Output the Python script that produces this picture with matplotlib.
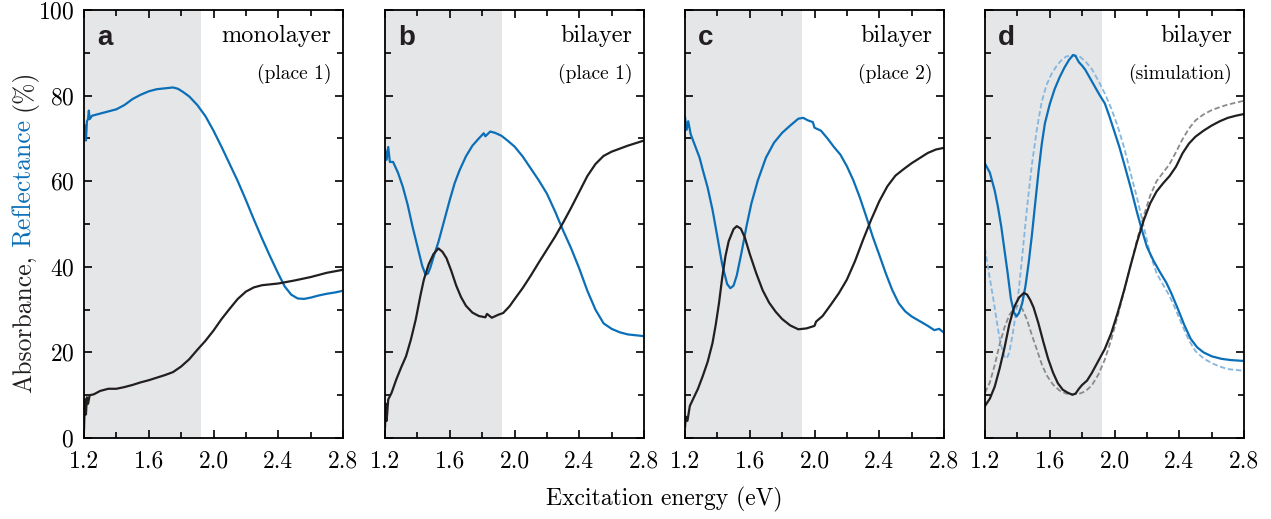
import numpy as np
import matplotlib
matplotlib.use("Agg")
import matplotlib.pyplot as plt
from matplotlib.ticker import MultipleLocator

plt.rcParams["font.family"] = "serif"
plt.rcParams["font.serif"] = ["cmr10"]
plt.rcParams["axes.formatter.use_mathtext"] = True

BLUE = "#0b6fb8"
BLACK = "#231f20"
LIGHTBLUE = "#84b6df"
GRAY = "#8a8a8c"
SHADE = "#e5e6e8"

# panel a: monolayer, place 1
a_refl_e = [1.2, 1.203, 1.208, 1.212, 1.218, 1.225, 1.23, 1.235, 1.25, 1.3, 1.35, 1.4, 1.45, 1.5, 1.55, 1.6, 1.65, 1.7, 1.75, 1.78, 1.81, 1.85, 1.9, 1.95, 2.0, 2.05, 2.1, 2.15, 2.2, 2.25, 2.3, 2.35, 2.4, 2.44, 2.48, 2.52, 2.56, 2.6, 2.65, 2.7, 2.75, 2.8]
a_refl = [72, 70, 73, 69.5, 74, 74.5, 76.5, 74.5, 75.3, 75.8, 76.3, 76.8, 77.8, 79.2, 80.2, 81.0, 81.5, 81.7, 81.9, 81.6, 80.9, 79.8, 77.8, 75.2, 71.8, 68, 64, 60, 55.6, 51, 46.6, 42.4, 38.4, 35.4, 33.5, 32.6, 32.5, 32.8, 33.3, 33.7, 34.0, 34.4]
a_abs_e = [1.2, 1.203, 1.207, 1.212, 1.218, 1.225, 1.235, 1.26, 1.3, 1.35, 1.4, 1.45, 1.5, 1.55, 1.6, 1.65, 1.7, 1.75, 1.8, 1.85, 1.9, 1.95, 2.0, 2.05, 2.1, 2.15, 2.2, 2.25, 2.3, 2.4, 2.5, 2.6, 2.7, 2.8]
a_abs = [2, 6, 9, 5.5, 9.5, 8, 10, 10.2, 11, 11.5, 11.5, 11.9, 12.4, 13, 13.5, 14.1, 14.7, 15.4, 16.7, 18.4, 20.6, 22.7, 25.1, 27.8, 30.2, 32.5, 34.2, 35.2, 35.7, 36.1, 36.8, 37.6, 38.6, 39.3]

# panel b: bilayer, place 1
b_refl_e = [1.2, 1.21, 1.22, 1.23, 1.25, 1.28, 1.31, 1.34, 1.37, 1.4, 1.43, 1.45, 1.465, 1.48, 1.5, 1.53, 1.56, 1.6, 1.63, 1.66, 1.7, 1.74, 1.78, 1.81, 1.82, 1.85, 1.88, 1.92, 1.96, 2.0, 2.05, 2.1, 2.15, 2.2, 2.25, 2.3, 2.35, 2.4, 2.45, 2.5, 2.55, 2.6, 2.65, 2.7, 2.75, 2.8]
b_refl = [67.5, 65, 68, 64.5, 64.5, 62, 58.7, 54.5, 49.4, 44.8, 40.2, 38.2, 38.4, 39.8, 42.3, 45.8, 50, 55.6, 59.5, 62.5, 65.8, 68.3, 70, 71.2, 70.5, 71.6, 71.3, 70.6, 69.4, 68.1, 65.8, 63, 60.2, 57.1, 53, 48.5, 44.3, 39.6, 34.4, 30, 26.8, 25.5, 24.7, 24.2, 24, 23.8]
b_abs_e = [1.2, 1.205, 1.21, 1.22, 1.24, 1.27, 1.3, 1.33, 1.36, 1.39, 1.42, 1.44, 1.47, 1.5, 1.53, 1.555, 1.58, 1.61, 1.64, 1.67, 1.7, 1.74, 1.78, 1.82, 1.83, 1.86, 1.9, 1.93, 1.97, 2.0, 2.05, 2.1, 2.15, 2.2, 2.25, 2.3, 2.35, 2.4, 2.45, 2.5, 2.55, 2.6, 2.65, 2.7, 2.75, 2.8]
b_abs = [2.5, 8, 4, 9, 10.5, 13.7, 16.5, 19.1, 23, 27.7, 33.5, 37, 40.6, 43.0, 44.3, 43.5, 42.0, 39, 35.6, 32.9, 30.9, 29.3, 28.5, 28.2, 29.0, 28.1, 28.8, 29.2, 30.8, 32.4, 35, 37.9, 41, 44, 47, 50.3, 53.8, 57.5, 61.2, 64, 65.9, 66.9, 67.6, 68.3, 68.9, 69.5]

# panel c: bilayer, place 2
c_refl_e = [1.2, 1.21, 1.22, 1.235, 1.26, 1.29, 1.31, 1.34, 1.37, 1.4, 1.43, 1.46, 1.48, 1.5, 1.52, 1.55, 1.58, 1.61, 1.65, 1.7, 1.75, 1.8, 1.85, 1.9, 1.93, 1.96, 1.99, 2.0, 2.04, 2.08, 2.12, 2.16, 2.2, 2.24, 2.28, 2.32, 2.36, 2.4, 2.44, 2.48, 2.52, 2.56, 2.6, 2.65, 2.7, 2.74, 2.77, 2.8]
c_refl = [75, 72, 74, 71, 68.5, 65.5, 62.6, 58.5, 53.3, 47, 40.5, 36, 35, 35.6, 38, 43.5, 49.5, 54.8, 60.2, 65.5, 69, 71.3, 73, 74.6, 74.8, 74.2, 73.8, 72.5, 71.8, 70, 68, 66.2, 63.5, 60.2, 56.2, 51.7, 47, 42.8, 38.5, 34.6, 31.5, 29.6, 28.4, 27.3, 26.2, 25.2, 25.5, 24.6]
c_abs_e = [1.2, 1.205, 1.215, 1.23, 1.25, 1.28, 1.31, 1.34, 1.37, 1.39, 1.41, 1.43, 1.45, 1.47, 1.5, 1.52, 1.545, 1.57, 1.6, 1.64, 1.68, 1.72, 1.76, 1.8, 1.85, 1.9, 1.95, 2.0, 2.01, 2.05, 2.1, 2.15, 2.2, 2.25, 2.3, 2.35, 2.4, 2.45, 2.5, 2.55, 2.6, 2.65, 2.7, 2.75, 2.8]
c_abs = [2.5, 5, 4, 7.5, 9.1, 11.5, 14.5, 17.8, 22.2, 26.5, 31.5, 37.5, 42.5, 46, 48.8, 49.5, 48.9, 46.8, 43, 38.5, 34.5, 31.6, 29.5, 27.8, 26.3, 25.4, 25.6, 26.2, 27.2, 28.5, 31.1, 33.8, 37, 41.3, 46.3, 51, 55.3, 58.8, 61.3, 62.8, 64.2, 65.4, 66.6, 67.4, 67.8]

# panel d: bilayer, simulation (solid and dashed)
d_refl_e = [1.2, 1.23, 1.26, 1.28, 1.3, 1.32, 1.34, 1.36, 1.38, 1.395, 1.41, 1.43, 1.45, 1.47, 1.49, 1.51, 1.53, 1.55, 1.57, 1.6, 1.63, 1.66, 1.69, 1.72, 1.745, 1.76, 1.78, 1.8, 1.82, 1.85, 1.88, 1.91, 1.94, 1.97, 2.0, 2.03, 2.06, 2.1, 2.14, 2.17, 2.2, 2.24, 2.28, 2.32, 2.35, 2.39, 2.43, 2.47, 2.51, 2.55, 2.6, 2.66, 2.72, 2.8]
d_refl = [64.1, 62, 57.8, 54, 49.5, 44, 38.5, 32.5, 29.2, 28.4, 29.2, 31.5, 35.5, 41, 47.5, 54.8, 62, 68.5, 73.5, 78, 81.5, 84.2, 86.5, 88.4, 89.5, 89.2, 87.8, 87.0, 86.0, 84, 82, 80, 78.2, 75, 71.5, 68, 64, 58.5, 52.6, 48.5, 44.7, 41.5, 38.8, 36.3, 33.9, 30.3, 26.5, 23.2, 21.2, 20, 19.1, 18.5, 18.2, 18]
d_refl2_e = [1.2, 1.22, 1.25, 1.28, 1.3, 1.32, 1.335, 1.35, 1.37, 1.39, 1.41, 1.43, 1.46, 1.49, 1.52, 1.55, 1.58, 1.61, 1.64, 1.67, 1.7, 1.74, 1.78, 1.82, 1.86, 1.9, 1.94, 1.98, 2.02, 2.06, 2.1, 2.14, 2.18, 2.22, 2.26, 2.3, 2.34, 2.38, 2.42, 2.46, 2.5, 2.55, 2.6, 2.65, 2.7, 2.8]
d_refl2 = [44.3, 39.5, 32.8, 25.5, 21.5, 19, 18.6, 20, 24, 29, 35, 42.5, 54, 64, 72, 78.5, 82.5, 85, 86.8, 88.2, 89.1, 89.5, 89.3, 88, 86.2, 83.5, 80.5, 77, 72.8, 67.8, 61.8, 56, 49.5, 43, 38.5, 35.8, 33.2, 29.8, 26.2, 22.8, 20.3, 18.6, 17.5, 16.7, 16.1, 15.7]
d_abs_e = [1.2, 1.23, 1.26, 1.29, 1.32, 1.35, 1.38, 1.41, 1.44, 1.46, 1.48, 1.5, 1.53, 1.56, 1.59, 1.62, 1.65, 1.68, 1.71, 1.74, 1.76, 1.78, 1.8, 1.83, 1.86, 1.9, 1.94, 1.98, 2.02, 2.06, 2.1, 2.14, 2.18, 2.22, 2.26, 2.3, 2.34, 2.38, 2.42, 2.46, 2.5, 2.55, 2.6, 2.65, 2.7, 2.75, 2.8]
d_abs = [7.5, 9.2, 12, 16.2, 21, 26.5, 30.6, 32.8, 33.9, 33.5, 32.2, 30.5, 26.8, 22.5, 18.5, 15.3, 12.8, 11.3, 10.6, 10.1, 10.4, 11.5, 12.4, 13.4, 15.2, 18, 20.8, 24.5, 29.3, 34.6, 40.4, 45.9, 50.8, 54.8, 57.6, 59.5, 61.2, 63.4, 66.5, 68.8, 70.4, 71.8, 73, 74, 74.8, 75.3, 75.7]
d_abs2_e = [1.2, 1.23, 1.26, 1.29, 1.32, 1.35, 1.38, 1.405, 1.43, 1.46, 1.49, 1.52, 1.55, 1.58, 1.62, 1.66, 1.7, 1.74, 1.78, 1.82, 1.86, 1.9, 1.94, 1.98, 2.02, 2.06, 2.1, 2.14, 2.18, 2.22, 2.26, 2.3, 2.34, 2.38, 2.42, 2.46, 2.5, 2.55, 2.6, 2.65, 2.7, 2.8]
d_abs2 = [10.6, 13, 17, 21.8, 25.8, 28.7, 30.4, 30.9, 30.2, 27.6, 24, 20.7, 17.3, 14.7, 12.5, 11.1, 10.4, 10.2, 10.3, 10.9, 12.3, 14.8, 18.3, 23, 28.5, 34.4, 40.4, 46.4, 51.8, 56.6, 60, 62, 64, 66.8, 69.8, 72.3, 74.2, 75.6, 76.6, 77.3, 77.9, 78.8]

letters = ["a", "b", "c", "d"]
titles = ["monolayer", "bilayer", "bilayer", "bilayer"]
subtitles = ["(place 1)", "(place 1)", "(place 2)", "(simulation)"]
shade_edge = 1.925

fig = plt.figure(figsize=(12.71, 5.19), dpi=100)
lefts = [84, 385, 685, 985]
axes = [fig.add_axes([l / 1271, 81 / 519, 259 / 1271, 428 / 519]) for l in lefts]

axes[0].plot(a_refl_e, a_refl, color=BLUE, lw=1.6)
axes[0].plot(a_abs_e, a_abs, color=BLACK, lw=1.6)
axes[1].plot(b_refl_e, b_refl, color=BLUE, lw=1.6)
axes[1].plot(b_abs_e, b_abs, color=BLACK, lw=1.6)
axes[2].plot(c_refl_e, c_refl, color=BLUE, lw=1.6)
axes[2].plot(c_abs_e, c_abs, color=BLACK, lw=1.6)
axes[3].plot(d_refl2_e, d_refl2, color=LIGHTBLUE, lw=1.3, ls=(0, (3, 1.5)))
axes[3].plot(d_abs2_e, d_abs2, color=GRAY, lw=1.3, ls=(0, (3, 1.5)))
axes[3].plot(d_refl_e, d_refl, color=BLUE, lw=1.6)
axes[3].plot(d_abs_e, d_abs, color=BLACK, lw=1.6)

for i, ax in enumerate(axes):
    ax.axvspan(1.2, shade_edge, color=SHADE, lw=0, zorder=0)
    ax.set_xlim(1.2, 2.8)
    ax.set_ylim(0, 100)
    ax.xaxis.set_major_locator(MultipleLocator(0.4))
    ax.xaxis.set_minor_locator(MultipleLocator(0.2))
    ax.yaxis.set_major_locator(MultipleLocator(20))
    ax.yaxis.set_minor_locator(MultipleLocator(10))
    ax.tick_params(which="both", direction="in", top=True, right=True, width=1.2, labelsize=17)
    ax.tick_params(axis="x", pad=9)
    ax.tick_params(axis="y", pad=7)
    ax.tick_params(which="major", length=6)
    ax.tick_params(which="minor", length=4)
    ax.set_xticks([1.2, 1.6, 2.0, 2.4, 2.8])
    ax.set_xticklabels(["1.2", "1.6", "2.0", "2.4", "2.8"])
    if i > 0:
        ax.set_yticklabels([])
    for s in ax.spines.values():
        s.set_linewidth(1.3)
    ax.text(0.05, 0.965, letters[i], transform=ax.transAxes, fontsize=20, fontweight="bold",
            family="Liberation Sans", va="top", ha="left", color=BLACK)
    ax.text(0.955, 0.965, titles[i], transform=ax.transAxes, fontsize=17.5, va="top", ha="right")
    ax.text(0.955, 0.875, subtitles[i], transform=ax.transAxes, fontsize=14, va="top", ha="right")

fig.text(664 / 1271, 7 / 519, "Excitation energy (eV)", ha="center", va="bottom", fontsize=17)

# two-colour y label, built from stacked rotated pieces
renderer = fig.canvas.get_renderer()
ypos = 126 / 519
for txt, col in [("Absorbance,", BLACK), ("Reflectance", BLUE), ("(%)", BLACK)]:
    t = fig.text(24 / 1271, ypos, txt, rotation=90, ha="center", va="bottom", fontsize=18.5, color=col)
    bb = t.get_window_extent(renderer)
    ypos = (bb.y1 + 8) / 519

fig.savefig("out.png", dpi=100)
